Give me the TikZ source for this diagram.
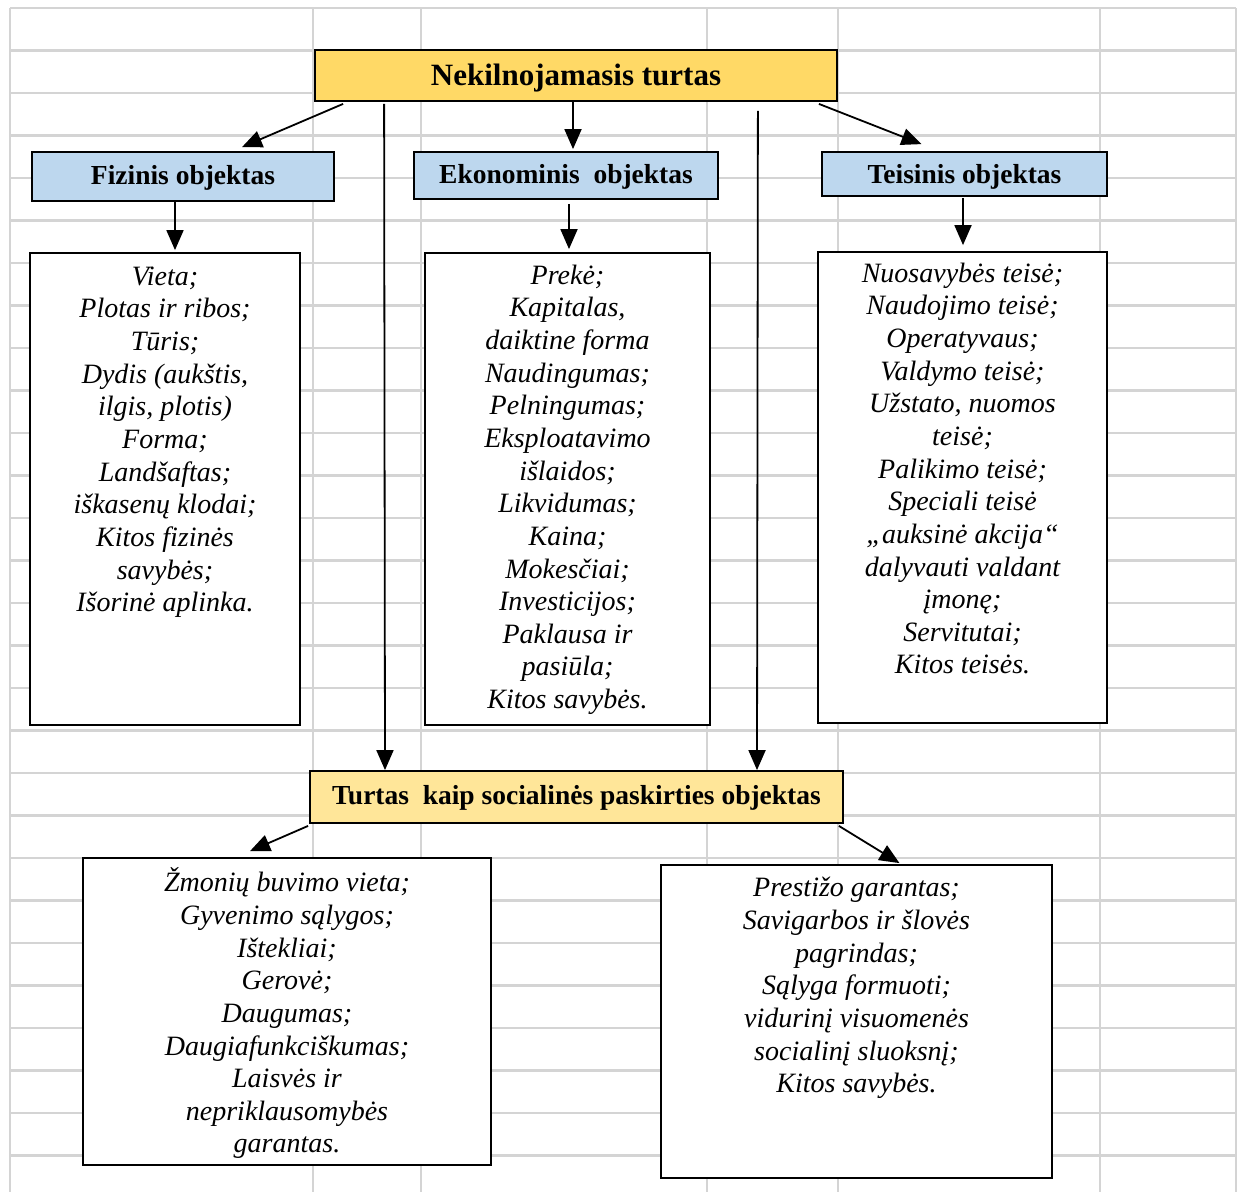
\documentclass[tikz,border=0pt]{standalone}
\usepackage{fontspec}
\setmainfont{Liberation Serif}
\usetikzlibrary{arrows.meta,calc}
\definecolor{topyel}{HTML}{FFD966}
\definecolor{socyel}{HTML}{FFE699}
\definecolor{hblue}{HTML}{BDD7EE}
\definecolor{gridc}{HTML}{D4D4D4}
\begin{document}
\begin{tikzpicture}[x=1pt,y=-1pt,
  gridl/.style={draw=gridc,line width=2.6pt},
  listbox/.style={draw=black,line width=1.8pt,fill=white,inner sep=0pt},
  hdrbox/.style={draw=black,line width=1.8pt,inner sep=0pt,text height=20pt,text depth=5pt,font=\fontsize{27.5}{30}\selectfont\bfseries},
  listtxt/.style={align=center,inner sep=0pt,anchor=north,font=\fontsize{28}{32.65}\selectfont\itshape},
  arr/.style={line width=1.8pt,-{Triangle[length=20pt,width=17pt]}}]
\useasboundingbox (0,0) rectangle (1242,1192);
\fill[white] (0,0) rectangle (1242,1192);
% spreadsheet grid
\foreach \k in {0,...,27} \draw[gridl] (10,{8+42.5*\k}) -- (1236,{8+42.5*\k});
\foreach \x in {10,313,421,707,838,1100,1236} \draw[gridl] (\x,8) -- (\x,1192);

% headers
\node[hdrbox,fill=topyel,minimum width=522pt,minimum height=51pt,text height=22pt,text depth=3pt,font=\fontsize{31}{34}\selectfont\bfseries] (top) at (576,75.5) {Nekilnojamasis turtas};
\node[hdrbox,fill=hblue,minimum width=302pt,minimum height=49pt] (fizhdr) at (183,176.5) {Fizinis objektas};
\node[hdrbox,fill=hblue,minimum width=304pt,minimum height=47pt] (ekohdr) at (566,175.5) {Ekonominis\ \ objektas};
\node[hdrbox,fill=hblue,minimum width=285pt,minimum height=44pt,text depth=2pt] (tehdr) at (964.5,174) {Teisinis objektas};
\node[hdrbox,fill=socyel,minimum width=533pt,minimum height=52pt] (soc) at (576.5,797) {Turtas\ \ kaip socialinės paskirties objektas};

% list boxes
\node[listbox,minimum width=270pt,minimum height=472pt] (fizbox) at (165,489) {};
\node[listbox,minimum width=285pt,minimum height=472pt] (ekobox) at (567.5,489) {};
\node[listbox,minimum width=289pt,minimum height=471pt] (tebox) at (962.5,487.5) {};
\node[listbox,minimum width=408pt,minimum height=307pt] (zbox) at (287,1011.5) {};
\node[listbox,minimum width=391pt,minimum height=313pt] (pbox) at (856.5,1021.5) {};

% list texts
\node[listtxt] (fiztxt) at ($(fizbox.north)+(0,10)$) {\strut Vieta;\\Plotas ir ribos;\\Tūris;\\Dydis (aukštis,\\ilgis, plotis)\\Forma;\\Landšaftas;\\iškasenų klodai;\\Kitos fizinės\\savybės;\\Išorinė aplinka.};
\node[listtxt] (ekotxt) at ($(ekobox.north)+(0,9)$) {\strut Prekė;\\Kapitalas,\\daiktine forma\\Naudingumas;\\Pelningumas;\\Eksploatavimo\\išlaidos;\\Likvidumas;\\Kaina;\\Mokesčiai;\\Investicijos;\\Paklausa ir\\pasiūla;\\Kitos savybės.};
\node[listtxt] (tetxt) at ($(tebox.north)+(0,8)$) {\strut Nuosavybės teisė;\\Naudojimo teisė;\\Operatyvaus;\\Valdymo teisė;\\Užstato, nuomos\\teisė;\\Palikimo teisė;\\Speciali teisė\\„auksinė akcija“\\dalyvauti valdant\\įmonę;\\Servitutai;\\Kitos teisės.};
\node[listtxt] (ztxt) at ($(zbox.north)+(0,10.4)$) {\strut Žmonių buvimo vieta;\\Gyvenimo sąlygos;\\Ištekliai;\\Gerovė;\\Daugumas;\\Daugiafunkciškumas;\\Laisvės ir\\nepriklausomybės\\garantas.};
\node[listtxt] (ptxt) at ($(pbox.north)+(0,9.8)$) {\strut Prestižo garantas;\\Savigarbos ir šlovės\\pagrindas;\\Sąlyga formuoti;\\vidurinį visuomenės\\socialinį sluoksnį;\\Kitos savybės.};

% connectors
\draw[arr] ($(top.south west)+(29,2)$) -- ($(fizhdr.north)+(59,-4)$);
\draw[arr] ($(top.south)+(-3,0)$) -- ($(ekohdr.north)+(7,-2)$);
\draw[arr] ($(top.south east)+(-19,2)$) -- ($(tehdr.north)+(-43,-7)$);
\draw[arr] ($(top.south west)+(70,2)$) -- ($(soc.north)+(-191.5,0)$);
\draw[arr] ($(top.south east)+(-80,9)$) -- ($(soc.north)+(180.5,0)$);
\draw[arr] ($(fizhdr.south)+(-8,0)$) -- ($(fizbox.north)+(10,-2)$);
\draw[arr] ($(ekohdr.south)+(3,4)$) -- ($(ekobox.north)+(1.5,-3)$);
\draw[arr] ($(tehdr.south)+(-1.5,1)$) -- ($(tebox.north)+(0.5,-6)$);
\draw[arr] ($(soc.south west)+(-1,2)$) -- ($(zbox.north)+(-37,-6)$);
\draw[arr] ($(soc.south east)+(-5,2)$) -- ($(pbox.north)+(43,-1)$);
\end{tikzpicture}
\end{document}
